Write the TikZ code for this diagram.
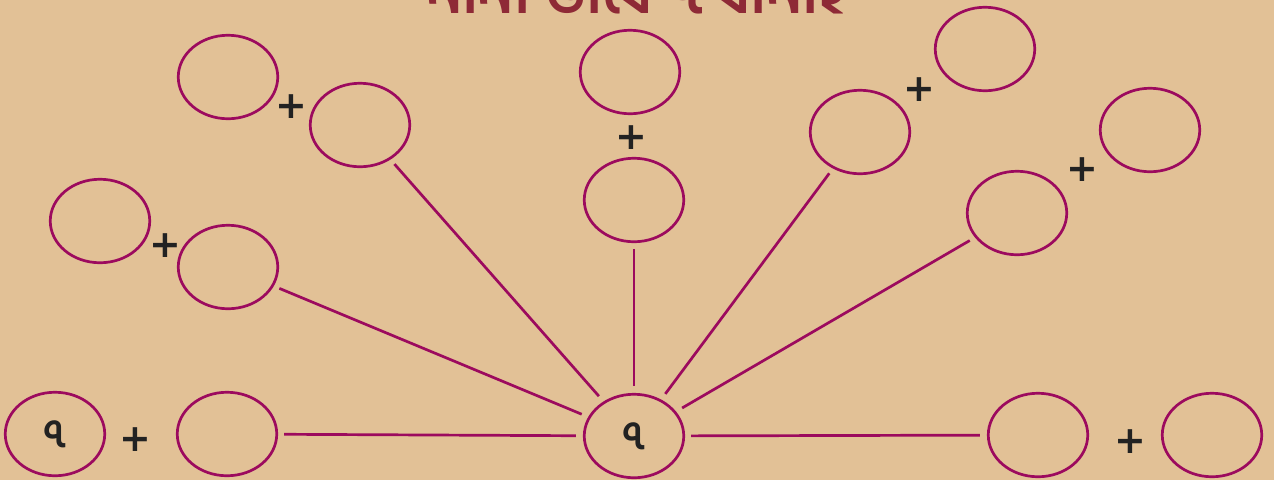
\documentclass[tikz,border=0pt]{standalone}
\usepackage{fontspec}
\usetikzlibrary{shapes.geometric}
\newfontfamily\bn[Script=Bengali]{Hind Siliguri}
\newfontfamily\dv{DejaVu Sans}
\definecolor{bg}{HTML}{E2C196}
\definecolor{ring}{HTML}{9C0A5E}
\definecolor{ttl}{HTML}{8E2A36}
\definecolor{ink}{HTML}{222222}
\tikzset{
  oval/.style={ellipse, draw=ring, line width=2.7pt, minimum width=99.5pt, minimum height=83.5pt, inner sep=0pt},
  plussign/.style={text=ink, font=\dv\bfseries\fontsize{38}{38}\selectfont, inner sep=0pt},
  digit/.style={text=ink, font=\bn\bfseries\fontsize{40}{40}\selectfont},
  link/.style={draw=ring, line width=2.7pt, shorten <=6pt, shorten >=7pt}
}
\begin{document}
\begin{tikzpicture}[x=1pt,y=-1pt]
\useasboundingbox (0,0) rectangle (1279,480);
\fill[white] (0,0) rectangle (1279,480);
\fill[bg] (0,0) rectangle (1274,480);
\clip (0,0) rectangle (1279,480);
\node[anchor=base, text=ttl, font=\bn\bfseries\fontsize{61}{61}\selectfont, inner sep=0pt] (title) at (637,13) {নানা ভাবে ৭ বানাই};
% bottom row
\node[oval, digit] (b1) at (55,434) {৭};
\node[plussign] (p1) at (135,440) {+};
\node[oval] (b2) at (227,434) {};
\node[oval, digit] (c) at (634,436) {৭};
\node[oval] (b4) at (1038,435) {};
\node[plussign] (p2) at (1130,442) {+};
\node[oval] (b5) at (1212,435) {};
% left middle
\node[oval] (la) at (100,221) {};
\node[plussign] (p3) at (165,246) {+};
\node[oval] (lb) at (228,267) {};
% top left
\node[oval] (ta) at (228,77) {};
\node[plussign] (p4) at (291,107) {+};
\node[oval] (tb) at (360,125) {};
% top center
\node[oval] (ma) at (630,72) {};
\node[plussign] (p5) at (631,138) {+};
\node[oval] (mb) at (634,200) {};
% top right
\node[oval] (ra) at (860,132) {};
\node[plussign] (p6) at (919,90) {+};
\node[oval] (rb) at (985,49) {};
% right
\node[oval] (sa) at (1017,213) {};
\node[plussign] (p7) at (1082,170) {+};
\node[oval] (sb) at (1150,130) {};
% connectors
\draw[link] (b2) -- (c);
\draw[link] (c) -- (b4);
\draw[link] (lb) -- (c);
\draw[link] (tb) -- (c);
\draw[link] (mb) -- (c);
\draw[link] (ra) -- (c);
\draw[link] (sa) -- (c);
\end{tikzpicture}
\end{document}
